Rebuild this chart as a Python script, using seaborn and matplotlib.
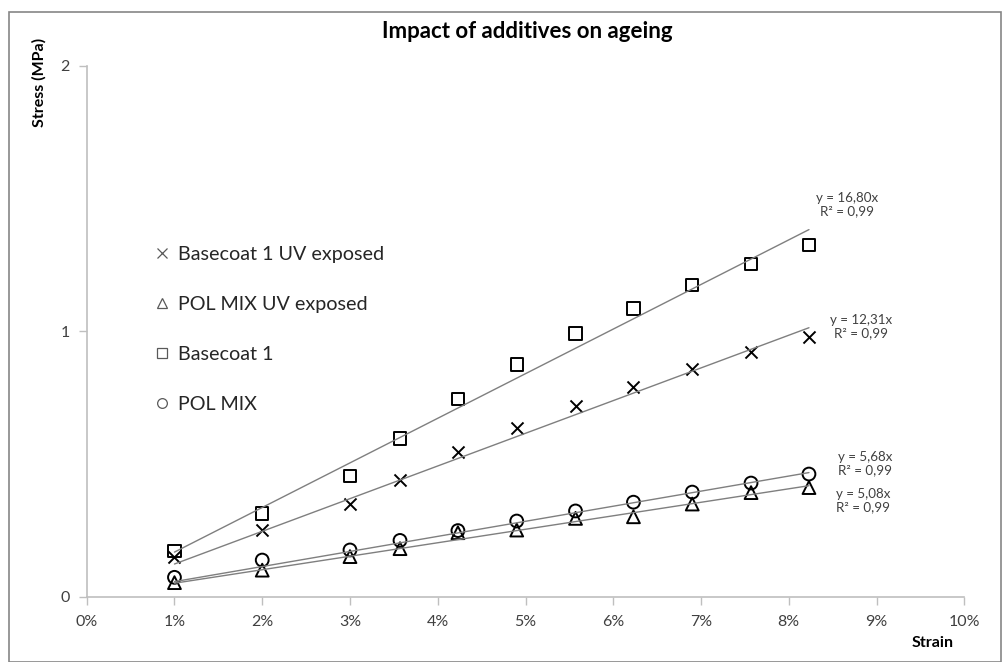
import matplotlib
matplotlib.use("Agg")
import matplotlib.pyplot as plt
from matplotlib.lines import Line2D
from matplotlib.patches import Rectangle
from matplotlib.ticker import FuncFormatter
import numpy as np
import pandas as pd
import seaborn as sns

# Strain values (fraction) shared by all four series
strain = [0.01, 0.02, 0.03, 0.0357, 0.0423, 0.049, 0.0557, 0.0623, 0.069, 0.0757, 0.0823]

# Measured stress (MPa)
basecoat_uv = [0.151, 0.251, 0.348, 0.439, 0.544, 0.634, 0.720, 0.791, 0.858, 0.921, 0.977]
polmix_uv = [0.053, 0.100, 0.151, 0.181, 0.241, 0.251, 0.295, 0.301, 0.349, 0.392, 0.411]
basecoat = [0.173, 0.314, 0.455, 0.596, 0.745, 0.875, 0.991, 1.086, 1.174, 1.254, 1.325]
polmix = [0.073, 0.138, 0.176, 0.212, 0.249, 0.285, 0.323, 0.356, 0.394, 0.428, 0.462]

series_names = ["Basecoat 1 UV exposed", "POL MIX UV exposed", "Basecoat 1", "POL MIX"]
series_values = [basecoat_uv, polmix_uv, basecoat, polmix]
series_markers = ["x", "^", "s", "o"]

# Linear fits through the origin: slope and R²
fit_slopes = [12.31, 5.08, 16.80, 5.68]
fit_r2 = [0.99, 0.99, 0.99, 0.99]
# label anchor (strain, stress) for each fit equation
fit_label_pos = [(0.0882, 1.017), (0.0885, 0.362), (0.0866, 1.477), (0.0887, 0.502)]

x_ticks = [0.0, 0.01, 0.02, 0.03, 0.04, 0.05, 0.06, 0.07, 0.08, 0.09, 0.10]
y_ticks = [0, 1, 2]

sns.set_theme(style="white")
plt.rcParams["font.family"] = ["Lato", "DejaVu Sans"]

W, H = 1003, 662
fig = plt.figure(figsize=(W / 100, H / 100), dpi=100)
ax = fig.add_axes([86.7 / W, 1 - 596.7 / H, (964.3 - 86.7) / W, (596.7 - 65.7) / H])

frames = []
for name, vals, mk in zip(series_names, series_values, series_markers):
    frames.append(pd.DataFrame({"strain": strain, "stress": vals, "series": name, "marker": mk}))
df = pd.concat(frames, ignore_index=True)

marker_sizes = {"x": 75, "^": 85, "s": 80, "o": 85}
for name, mk in zip(series_names, series_markers):
    sub = df[df["series"] == name]
    if mk == "x":
        sns.scatterplot(data=sub, x="strain", y="stress", marker="x", s=marker_sizes[mk],
                        color="black", linewidth=1.4, ax=ax, zorder=3, legend=False)
    else:
        sns.scatterplot(data=sub, x="strain", y="stress", marker=mk, s=marker_sizes[mk],
                        facecolor="none", edgecolor="black", linewidth=1.4,
                        ax=ax, zorder=3, legend=False)

# Fitted trend lines drawn over the markers
for name, k in zip(series_names, fit_slopes):
    xs = np.array([min(strain), max(strain)])
    sns.lineplot(x=xs, y=k * xs, color="#7f7f7f", linewidth=1.0, ax=ax,
                 zorder=4, legend=False)

for k, r2, (lx, ly) in zip(fit_slopes, fit_r2, fit_label_pos):
    txt = ("y = %.2fx" % k).replace(".", ",") + "\n" + ("R² = %.2f" % r2).replace(".", ",")
    ax.text(lx, ly, txt, ha="center", va="center", fontsize=9.6, color="#404040",
            linespacing=1.15)

ax.set_xlim(0, 0.10)
ax.set_ylim(0, 2)
ax.set_xticks(x_ticks)
ax.set_yticks(y_ticks)
ax.xaxis.set_major_formatter(FuncFormatter(lambda v, p: "%d%%" % round(v * 100)))
ax.yaxis.set_major_formatter(FuncFormatter(lambda v, p: "%d" % v))
ax.tick_params(axis="both", which="major", length=6, width=1, color="#bfbfbf",
               labelsize=11.5, labelcolor="#404040", direction="out",
               bottom=True, left=True)
ax.tick_params(axis="x", pad=7)
ax.tick_params(axis="y", pad=6)
for side in ["top", "right"]:
    ax.spines[side].set_visible(False)
for side in ["left", "bottom"]:
    ax.spines[side].set_color("#bfbfbf")
    ax.spines[side].set_linewidth(1.2)
ax.set_xlabel("")
ax.set_ylabel("")
ax.grid(False)

fig.text(527 / W, 1 - 32 / H, "Impact of additives on ageing", ha="center", va="center",
         fontsize=16, fontweight="bold", color="black")
fig.text(39 / W, 1 - 82 / H, "Stress (MPa)", ha="center", va="center", rotation=90,
         fontsize=11.5, fontweight="bold", color="black")
fig.text(933 / W, 1 - 643 / H, "Strain", ha="center", va="center",
         fontsize=11.5, fontweight="bold", color="black")

handles = []
for mk in series_markers:
    handles.append(Line2D([], [], linestyle="none", marker=mk, markersize=7,
                          markerfacecolor="none", markeredgecolor="#595959",
                          markeredgewidth=0.9, color="#595959"))
leg = ax.legend(handles, series_names, loc="upper left", frameon=False,
                bbox_to_anchor=((153 - 86.7) / (964.3 - 86.7), (596.7 - 246) / (596.7 - 65.7)),
                fontsize=14.2, labelspacing=1.68, handlelength=0.9, handletextpad=0.35,
                borderaxespad=0, borderpad=0)
for t in leg.get_texts():
    t.set_color("#262626")

# Chart-area border
fig.add_artist(Rectangle((9.5 / W, 0.5 / H), (1001 - 9.5) / W, (650.5 - 0.5) / H,
                         transform=fig.transFigure, fill=False, edgecolor="#868686",
                         linewidth=1.2))

fig.savefig("out.png", dpi=100)
